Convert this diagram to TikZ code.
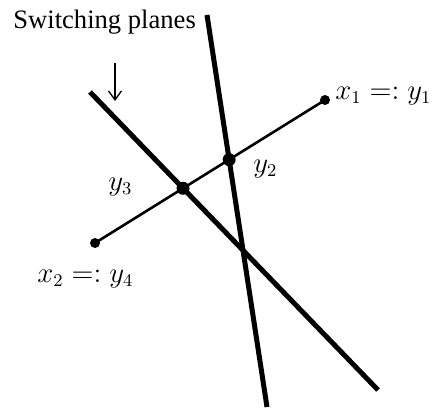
\documentclass[tikz,border=0pt]{standalone}
\usepackage{fontspec}
\setmainfont{Liberation Serif}
\usetikzlibrary{positioning,intersections,arrows.meta}
\tikzset{
  plane/.style={line width=2.5pt},
  segline/.style={line width=1.3pt},
  enddot/.style={circle, fill=black, inner sep=0pt, minimum size=5pt},
  crossdot/.style={circle, fill=black, inner sep=0pt, minimum size=6.5pt},
  lbl/.style={inner sep=0pt, font=\fontsize{13.3}{16}\selectfont},
  pointer/.style={line width=0.65pt, -{Straight Barb[length=4.5pt,width=6.5pt]}},
}

\begin{document}
\begin{tikzpicture}[x=0.5pt, y=-0.5pt]
\useasboundingbox (0,0) rectangle (432,409);

%% ── Switching planes ─────────────────────────────────────────
\coordinate (p1top) at (207,15);
\coordinate (p1bot) at (267,407);
\coordinate (p2top) at (90,92);
\coordinate (p2bot) at (378,390);
\draw[plane, name path=plane1] (p1top) -- (p1bot);
\draw[plane, name path=plane2] (p2top) -- (p2bot);

%% ── Segment between the end points ───────────────────────────
\node[enddot] (x1) at (325,100) {};
\node[enddot] (x2) at (95,243) {};
\path[name path=seg] (x1.center) -- (x2.center);
\draw[segline] (x1.center) -- (x2.center);
\path[name intersections={of=seg and plane1, by=cut2}];
\path[name intersections={of=seg and plane2, by=cut3}];
\node[crossdot] (y2) at (cut2) {};
\node[crossdot] (y3) at (cut3) {};

%% ── Labels ───────────────────────────────────────────────────
\node[lbl, anchor=base west] (x1lbl) at (335,99) {$x_1 =: y_1$};
\node[lbl, anchor=base west] (x2lbl) at (37,282) {$x_2 =: y_4$};
\node[lbl, anchor=base west] (y2lbl) at (253,172) {$y_2$};
\node[lbl, anchor=base west] (y3lbl) at (108,190) {$y_3$};

\node[lbl, anchor=base west] (title) at (13,28) {Switching planes};
\coordinate (arrtop) at (115,63);
\coordinate (arrtip) at (115,101);
\draw[pointer] (arrtop) -- (arrtip);

\end{tikzpicture}
\end{document}
